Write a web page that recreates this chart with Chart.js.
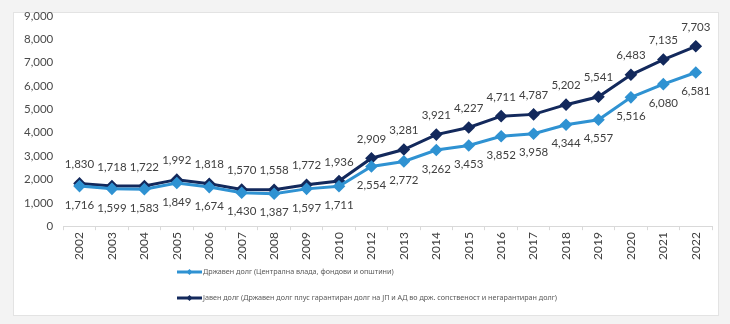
<!DOCTYPE html>
<html>
<head>
<meta charset="utf-8">
<script src="https://cdn.jsdelivr.net/npm/chart.js@4.4.0/dist/chart.umd.min.js"></script>
<style>
    html, body { margin: 0; padding: 0; background: #f3f3f3; }
    #wrap { position: relative; width: 730px; height: 324px; }
    #card {
        position: absolute; left: 13px; top: 12px; width: 704px; height: 302px;
        background: #fff; border: 1px solid #e3e3e3;
    }
    #chart { position: absolute; left: 0; top: 0; }
</style>
</head>
<body>
<div id="wrap">
    <div id="card"></div>
    <canvas id="chart" width="730" height="324"></canvas>
</div>
<script>
// Years (2011 is not in the source table)
const years = ['2002', '2003', '2004', '2005', '2006', '2007', '2008', '2009', '2010',
    '2012', '2013', '2014', '2015', '2016', '2017', '2018', '2019', '2020', '2021', '2022'];

// Државен долг (light blue)
const stateDebt = [1716, 1599, 1583, 1849, 1674, 1430, 1387, 1597, 1711,
    2554, 2772, 3262, 3453, 3852, 3958, 4344, 4557, 5516, 6080, 6581];

// Јавен долг (dark blue)
const publicDebt = [1830, 1718, 1722, 1992, 1818, 1570, 1558, 1772, 1936,
    2909, 3281, 3921, 4227, 4711, 4787, 5202, 5541, 6483, 7135, 7703];

const yTicks = [0, 1000, 2000, 3000, 4000, 5000, 6000, 7000, 8000, 9000];

const stateLabel = 'Државен долг (Централна влада, фондови и општини)';
const publicLabel = 'Јавен долг (Државен долг плус гарантиран долг на ЈП и АД во држ. сопственост и негарантиран долг)';

const LIGHT = '#2f92d2';
const DARK = '#13295c';
const NUM_FONT = "Lato, 'Noto Sans', sans-serif";

const fmt = v => v.toLocaleString('en-US');

// Value labels: public debt above its points, state debt below
const valueLabels = {
    id: 'valueLabels',
    afterDatasetsDraw(chart) {
        const ctx = chart.ctx;
        ctx.save();
        ctx.font = '11.5px ' + NUM_FONT;
        ctx.fillStyle = '#404040';
        ctx.textAlign = 'center';
        ctx.textBaseline = 'middle';
        chart.data.datasets.forEach((ds, i) => {
            const meta = chart.getDatasetMeta(i);
            const dy = ds.labelSide === 'above' ? -19 : 19;
            meta.data.forEach((pt, j) => {
                ctx.fillText(fmt(ds.data[j]), pt.x, pt.y + dy);
            });
        });
        ctx.restore();
    }
};

// Legend stacked in two rows under the axis
const stackedLegend = {
    id: 'stackedLegend',
    afterDraw(chart) {
        const ctx = chart.ctx;
        const x0 = 177;
        const rows = [272, 298];
        ctx.save();
        ctx.font = "7.2px 'Noto Sans', sans-serif";
        ctx.textBaseline = 'middle';
        chart.data.datasets.forEach((ds, i) => {
            const y = rows[i];
            ctx.strokeStyle = ds.borderColor;
            ctx.lineWidth = 3;
            ctx.beginPath();
            ctx.moveTo(x0, y);
            ctx.lineTo(x0 + 25, y);
            ctx.stroke();
            ctx.fillStyle = ds.borderColor;
            ctx.beginPath();
            ctx.moveTo(x0 + 12.5, y - 3);
            ctx.lineTo(x0 + 15.5, y);
            ctx.lineTo(x0 + 12.5, y + 3);
            ctx.lineTo(x0 + 9.5, y);
            ctx.closePath();
            ctx.fill();
            ctx.fillStyle = '#595959';
            ctx.fillText(ds.label, x0 + 26, y);
        });
        ctx.restore();
    }
};

new Chart(document.getElementById('chart'), {
    type: 'line',
    data: {
        labels: years,
        datasets: [
            {
                label: stateLabel,
                data: stateDebt,
                borderColor: LIGHT,
                backgroundColor: LIGHT,
                borderWidth: 3,
                pointStyle: 'rectRot',
                pointRadius: 4.2,
                labelSide: 'below'
            },
            {
                label: publicLabel,
                data: publicDebt,
                borderColor: DARK,
                backgroundColor: DARK,
                borderWidth: 3,
                pointStyle: 'rectRot',
                pointRadius: 4.2,
                labelSide: 'above'
            }
        ]
    },
    options: {
        responsive: false,
        animation: false,
        layout: {
            padding: { left: 22, right: 18, top: 16, bottom: 62 }
        },
        plugins: {
            legend: { display: false },
            tooltip: { enabled: false }
        },
        scales: {
            y: {
                min: 0,
                max: 9000,
                afterBuildTicks: axis => { axis.ticks = yTicks.map(v => ({ value: v })); },
                grid: { display: false },
                border: { display: false },
                ticks: {
                    color: '#4a4a4a',
                    padding: 2,
                    font: { family: NUM_FONT, size: 11.5 },
                    callback: v => fmt(v)
                }
            },
            x: {
                offset: true,
                grid: {
                    offset: true,
                    drawOnChartArea: false,
                    drawTicks: true,
                    tickLength: 4,
                    color: '#d9d9d9'
                },
                border: { display: true, color: '#d9d9d9' },
                ticks: {
                    color: '#404040',
                    minRotation: 90,
                    maxRotation: 90,
                    padding: 2,
                    font: { family: NUM_FONT, size: 12 }
                }
            }
        }
    },
    plugins: [valueLabels, stackedLegend]
});
</script>
</body>
</html>
